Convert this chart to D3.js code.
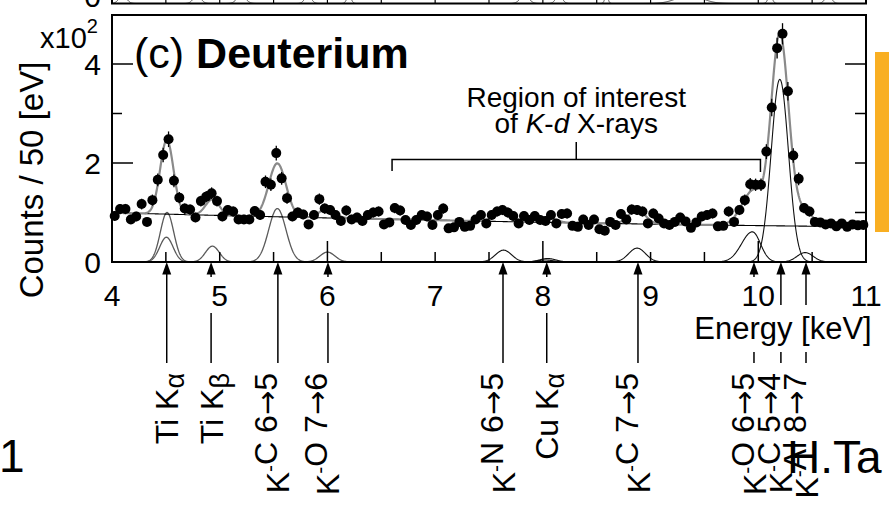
<!DOCTYPE html>
<html>
<head>
<meta charset="utf-8">
<script src="https://cdn.jsdelivr.net/npm/d3@7"></script>
<style>
  html, body { margin: 0; padding: 0; background: #fff; overflow: hidden; }
  svg { display: block; font-family: "Liberation Sans", Arial, Helvetica, sans-serif; }
</style>
</head>
<body>
<svg id="chart" width="889" height="505"></svg>
<script>
// ---- Spectrum: counts per 50 eV bin (in units of 10^2), bins from 4.00 to 11.00 keV ----
const binStart = 4.0;
const binWidth = 0.05;
const counts = [
  0.93, 1.07, 1.07, 0.86, 0.92, 1.17, 0.81, 1.25, 1.66, 2.16,
  2.48, 1.64, 1.30, 1.08, 1.06, 0.90, 1.23, 1.32, 1.39, 1.23,
  0.92, 1.05, 1.02, 0.86, 0.86, 0.86, 1.03, 0.95, 1.62, 1.56,
  2.20, 1.69, 1.29, 0.92, 1.00, 0.96, 0.76, 0.95, 1.27, 1.08,
  1.05, 0.95, 0.83, 1.04, 0.86, 0.90, 0.83, 0.95, 1.00, 1.02,
  0.76, 0.80, 1.09, 1.04, 0.85, 0.75, 0.85, 0.95, 0.92, 0.75,
  0.95, 1.08, 0.68, 0.70, 0.81, 0.71, 0.73, 0.86, 0.95, 0.78,
  0.95, 1.02, 1.05, 1.00, 0.93, 0.78, 0.93, 0.85, 0.93, 0.85,
  0.83, 0.95, 0.78, 0.97, 0.98, 0.73, 0.71, 0.86, 0.75, 0.86,
  0.66, 0.63, 0.81, 0.75, 0.97, 0.86, 1.06, 1.05, 1.02, 0.78,
  0.98, 0.88, 0.78, 0.75, 0.81, 0.90, 0.82, 0.69, 0.80, 0.92,
  0.95, 0.98, 0.72, 0.73, 1.02, 0.81, 1.05, 1.25, 1.57, 1.56,
  1.56, 2.23, 3.12, 4.32, 4.61, 3.45, 2.15, 1.68, 1.09, 1.02,
  0.81, 0.80, 0.76, 0.78, 0.72, 0.78, 0.71, 0.76, 0.74, 0.75
];

// ---- Fit: smooth background level (10^2 counts) ----
const bgEnergy = [4, 5, 6, 7, 8, 9, 10, 11];
const bgLevel  = [0.995, 0.94, 0.89, 0.845, 0.80, 0.765, 0.735, 0.71];

// ---- Fit: line components (centre keV, height, low/high-side width) ----
const peakName  = ["Ti Kα1", "Ti Kα2", "Ti Kβ", "K⁻C 6→5", "K⁻O 7→6", "K⁻N 6→5", "Cu Kα1", "Cu Kα2",
                   "K⁻C 7→5", "K⁻O 6→5", "K⁻C 5→4", "K⁻Al 8→7", "K⁻C 5→4 wing"];
const peakCenter = [4.511, 4.505, 4.932, 5.535, 6.00, 7.635, 8.045, 8.025, 8.875, 9.945, 10.20, 10.435, 10.20];
const peakHeight = [1.00, 0.50, 0.32, 1.08, 0.20, 0.24, 0.07, 0.04, 0.28, 0.61, 3.69, 0.19, 0.20];
const peakSigLow  = [0.062, 0.062, 0.064, 0.080, 0.070, 0.075, 0.075, 0.075, 0.078, 0.100, 0.080, 0.075, 0.200];
const peakSigHigh = [0.062, 0.062, 0.064, 0.080, 0.070, 0.075, 0.075, 0.075, 0.078, 0.075, 0.080, 0.075, 0.200];
const peakShown  = [true, true, true, true, true, true, true, true, true, true, true, true, false];

// ---- Line identification arrows below the axis ----
const markerText   = ["Ti K_α", "Ti K_β", "K^-C 6→5", "K^-O 7→6", "K^-N 6→5", "Cu K_α",
                      "K^-C 7→5", "K^-O 6→5", "K^-C 5→4", "K^-Al 8→7"];
const markerEnergy = [4.508, 4.92, 5.54, 6.005, 7.63, 8.036, 8.883, 9.96, 10.21, 10.443];

// ---- Axes ----
const xTickLabels = [4, 5, 6, 7, 8, 9, 10, 11];
const xTickMinor  = [4.5, 5, 5.5, 6.5, 7, 7.5, 8.5, 9, 9.5, 10.5];
const xTickMajor  = [6, 8, 10];
const yTickLabels = [0, 2, 4];
const roiRange = [6.6, 10.02];

// ---- Neighbouring panel (only its lower edge is in view) ----
const upperCenter = [4.10, 4.79, 5.20, 5.82, 6.20, 7.83, 8.15, 8.59, 9.36, 10.11, 10.65];
const upperSigma  = [0.035, 0.035, 0.04, 0.03, 0.02, 0.04, 0.03, 0.015, 0.12, 0.02, 0.03];

// ================= drawing =================
const svg = d3.select("#chart");
const L = 112, R = 866, T = 15, B = 262;
const x = d3.scaleLinear().domain([4, 11]).range([L, R]);
const y = d3.scaleLinear().domain([0, 5]).range([B, 14.5]);
const bg = d3.scaleLinear().domain(bgEnergy).range(bgLevel);

function shape(i, e) {
  const d = e - peakCenter[i];
  const s = d < 0 ? peakSigLow[i] : peakSigHigh[i];
  return peakHeight[i] * Math.exp(-d * d / (2 * s * s));
}
const line = d3.line().x(d => x(d[0])).y(d => y(d[1]));

svg.append("defs").append("clipPath").attr("id", "plotClip")
  .append("rect").attr("x", L).attr("y", T).attr("width", R - L).attr("height", B - T);
svg.select("defs").append("clipPath").attr("id", "upperClip")
  .append("rect").attr("x", L).attr("y", -20).attr("width", R - L).attr("height", 23.5);

// neighbouring panel edge
const upperBase = 3.5;
const yU = d3.scaleLinear().domain([0, 1]).range([upperBase, upperBase - 8]);
const upper = svg.append("g");
const ug = upper.append("g").attr("clip-path", "url(#upperClip)");
upperCenter.forEach((c, i) => {
  const s = upperSigma[i];
  const pts = d3.range(c - 3.5 * s, c + 3.5 * s, s / 20).map(e => [e, Math.exp(-(e - c) * (e - c) / (2 * s * s))]);
  ug.append("path").attr("d", d3.line().x(d => x(d[0])).y(d => yU(d[1]))(pts))
    .attr("fill", "none").attr("stroke", "#444").attr("stroke-width", 1);
});
d3.range(4.5, 11, 0.5).forEach(v => {
  upper.append("line").attr("x1", x(v)).attr("x2", x(v)).attr("y1", upperBase).attr("y2", -6)
    .attr("stroke", "#000").attr("stroke-width", 1.2);
});
upper.append("path").attr("d", `M${L},-5V${upperBase}H${R}V-5`)
  .attr("fill", "none").attr("stroke", "#000").attr("stroke-width", 2);
upper.append("text").attr("x", 101).attr("y", 7).attr("text-anchor", "end")
  .attr("font-size", 30).text("0");

// fit components
const plot = svg.append("g").attr("clip-path", "url(#plotClip)");
peakCenter.forEach((c, i) => {
  if (!peakShown[i]) return;
  const pts = d3.range(c - 4 * peakSigLow[i], c + 4 * peakSigHigh[i], 0.004).map(e => [e, shape(i, e)]);
  const grey = c < 6.5;
  plot.append("path").attr("d", line(pts)).attr("fill", "none")
    .attr("stroke", grey ? "#5a5a5a" : "#111").attr("stroke-width", grey ? 1.3 : 1.1);
});

// background and total fit
const grid = d3.range(4, 11.0001, 0.005);
plot.append("path").attr("d", line(grid.map(e => [e, bg(e)])))
  .attr("fill", "none").attr("stroke", "#000").attr("stroke-width", 1.1);
const total = grid.map(e => [e, bg(e) + d3.sum(peakCenter, (c, i) => shape(i, e))]);
plot.append("path").attr("d", line(total))
  .attr("fill", "none").attr("stroke", "#8a8a8a").attr("stroke-width", 2.2);

// data points with statistical error bars
const pts = counts.map((v, i) => ({ e: binStart + (i + 0.5) * binWidth, v, err: Math.sqrt(v * 100) / 100 }));
const dg = svg.append("g");
dg.selectAll("line").data(pts).join("line")
  .attr("x1", d => x(d.e)).attr("x2", d => x(d.e))
  .attr("y1", d => y(d.v - d.err)).attr("y2", d => y(d.v + d.err))
  .attr("stroke", "#000").attr("stroke-width", 1.3);
dg.selectAll("circle").data(pts).join("circle")
  .attr("cx", d => x(d.e)).attr("cy", d => y(d.v)).attr("r", 5).attr("fill", "#000");

// frame
svg.append("rect").attr("x", L).attr("y", T).attr("width", R - L).attr("height", B - T)
  .attr("fill", "none").attr("stroke", "#000").attr("stroke-width", 2);

// ticks (inward)
const tk = svg.append("g").attr("stroke", "#000").attr("stroke-width", 1.5);
[1, 2, 3, 4].forEach(v => {
  const len = (v % 2 === 0) ? 21 : 10;
  tk.append("line").attr("x1", L).attr("x2", L + len).attr("y1", y(v)).attr("y2", y(v));
  const rlen = v === 4 ? 21 : 11;
  tk.append("line").attr("x1", R).attr("x2", R - rlen).attr("y1", y(v)).attr("y2", y(v));
});
xTickMinor.forEach(v => tk.append("line").attr("x1", x(v)).attr("x2", x(v)).attr("y1", B).attr("y2", B - 10));
xTickMajor.forEach(v => tk.append("line").attr("x1", x(v)).attr("x2", x(v)).attr("y1", B).attr("y2", B - 21));

// y tick labels and multiplier
yTickLabels.forEach(v => {
  svg.append("text").attr("x", 101).attr("y", y(v)).attr("dy", "0.36em")
    .attr("text-anchor", "end").attr("font-size", 30).text(v);
});
const mult = svg.append("text").attr("x", 40).attr("y", 48).attr("font-size", 29);
mult.append("tspan").text("x10");
mult.append("tspan").attr("font-size", 20).attr("dy", -15).text("2");

// y title
svg.append("text").attr("transform", "translate(43,180) rotate(-90)")
  .attr("text-anchor", "middle").attr("font-size", 33).text("Counts / 50 [eV]");

// panel title
const title = svg.append("text").attr("x", 134).attr("y", 68).attr("font-size", 43);
title.append("tspan").text("(c) ");
title.append("tspan").attr("font-weight", "bold").text("Deuterium");

// region of interest bracket
const roi = svg.append("g").attr("stroke", "#000").attr("stroke-width", 1.5).attr("fill", "none");
roi.append("path").attr("d", `M${x(roiRange[0])},171V159.5H${x(roiRange[1])}V172`);
const roiMid = (x(roiRange[0]) + x(roiRange[1])) / 2;
roi.append("line").attr("x1", roiMid).attr("x2", roiMid).attr("y1", 159.5).attr("y2", 142);
svg.append("text").attr("x", roiMid).attr("y", 106.5).attr("text-anchor", "middle")
  .attr("font-size", 28).text("Region of interest");
const l2 = svg.append("text").attr("x", roiMid).attr("y", 133.3).attr("text-anchor", "middle").attr("font-size", 28);
l2.append("tspan").text("of ");
l2.append("tspan").attr("font-style", "italic").text("K");
l2.append("tspan").text("-");
l2.append("tspan").attr("font-style", "italic").text("d");
l2.append("tspan").text(" X-rays");

// marker arrows
const ar = svg.append("g");
markerEnergy.forEach(e => {
  const px = x(e);
  ar.append("line").attr("x1", px).attr("x2", px).attr("y1", 272).attr("y2", 363)
    .attr("stroke", "#000").attr("stroke-width", 1.5);
  ar.append("path").attr("d", `M${px},262L${px - 4.5},274.5L${px + 4.5},274.5Z`).attr("fill", "#000");
});

// x tick labels and axis title, with a clear area behind them
const maskG = svg.append("g");
const labG = svg.append("g");
xTickLabels.forEach(v => {
  const t = labG.append("text").attr("x", x(v)).attr("y", 306).attr("text-anchor", "middle")
    .attr("font-size", 30).text(v);
  const b = t.node().getBBox();
  maskG.append("rect").attr("x", b.x - 3).attr("y", b.y - 2).attr("width", b.width + 6).attr("height", b.height + 3)
    .attr("fill", "#fff");
});
const et = labG.append("text").attr("x", 783).attr("y", 339).attr("text-anchor", "middle")
  .attr("font-size", 31).text("Energy [keV]");
{
  const b = et.node().getBBox();
  maskG.append("rect").attr("x", b.x - 2).attr("y", b.y - 6).attr("width", b.width + 4).attr("height", b.height + 12)
    .attr("fill", "#fff");
}

// rotated line labels: "^x" raises x, "_x" lowers x, arrows use a wider glyph
markerText.forEach((s, i) => {
  const g = svg.append("g").attr("transform", `translate(${x(markerEnergy[i])},373) rotate(-90)`);
  const t = g.append("text").attr("text-anchor", "end").attr("dy", "0.36em").attr("font-size", 32);
  let k = 0, buf = "";
  const flush = () => { if (buf) { t.append("tspan").text(buf); buf = ""; } };
  while (k < s.length) {
    const ch = s[k];
    if (ch === "^" || ch === "_") {
      flush();
      const sym = s[k + 1];
      if (ch === "^") {
        t.append("tspan").attr("font-size", 21).attr("dy", -12).text(sym);
        t.append("tspan").attr("dy", 12).text("");
      } else {
        t.append("tspan").attr("font-size", 27).attr("dy", 6).text(sym);
        t.append("tspan").attr("dy", -6).text("");
      }
      k += 2;
    } else if (ch === "→") {
      flush();
      t.append("tspan").attr("font-family", "'DejaVu Sans', sans-serif").attr("font-size", 29).text("→");
      k++;
    } else { buf += ch; k++; }
  }
  flush();
});

// slide furniture
svg.append("rect").attr("x", 875).attr("y", 52).attr("width", 14).attr("height", 180).attr("fill", "#F9AF22");
svg.append("text").attr("x", -1).attr("y", 472).attr("font-size", 46).text("1");
svg.append("text").attr("x", 787).attr("y", 473).attr("font-size", 46).text("H.Ta");
</script>
</body>
</html>
